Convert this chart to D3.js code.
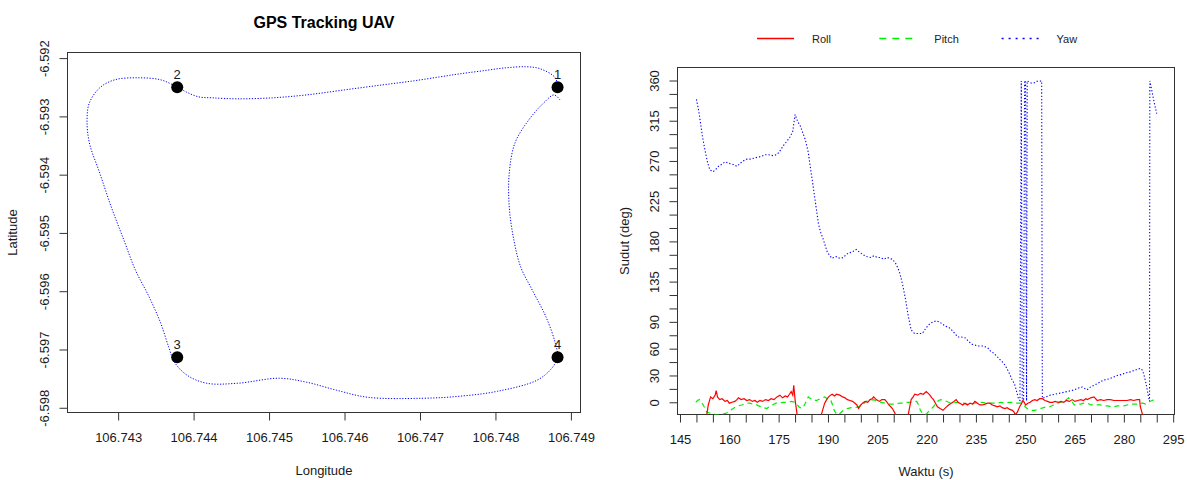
<!DOCTYPE html>
<html><head><meta charset="utf-8">
<script src="https://cdn.jsdelivr.net/npm/d3@7"></script>
<style>body{margin:0;background:#fff;} svg{display:block;font-family:"Liberation Sans",Arial,sans-serif;}</style>
</head><body><svg id="c" width="1187" height="480"></svg>
<script>
// ---------- Left panel data: GPS track ----------
const trackLon = [106.748823,106.748793,106.748595,106.748412,106.748137,106.747832,106.747527,106.747268,106.746918,106.746506,
106.746003,106.745500,106.745043,106.744585,106.744250,106.744067,106.743899,106.743777,106.743564,106.743259,
106.742954,106.742756,106.742619,106.742588,106.742619,106.742756,106.742909,106.743076,106.743229,106.743412,
106.743564,106.743671,106.743747,106.743915,106.744174,106.744585,106.745134,106.745500,106.745896,106.746308,
106.747024,106.747527,106.748030,106.748549,106.748747,106.748823,106.748793,106.748671,106.748488,106.748335,
106.748244,106.748183,106.748183,106.748259,106.748442,106.748640,106.748777,106.748854];
const trackLat = [-6.592493,-6.592338,-6.592184,-6.592149,-6.592167,-6.592218,-6.592270,-6.592321,-6.592390,-6.592459,
-6.592545,-6.592631,-6.592682,-6.592699,-6.592682,-6.592665,-6.592579,-6.592493,-6.592373,-6.592338,
-6.592373,-6.592510,-6.592768,-6.593060,-6.593455,-6.593971,-6.594555,-6.595122,-6.595637,-6.596101,
-6.596548,-6.596961,-6.597218,-6.597442,-6.597579,-6.597579,-6.597493,-6.597562,-6.597699,-6.597820,
-6.597837,-6.597802,-6.597716,-6.597528,-6.597321,-6.597132,-6.596892,-6.596445,-6.595981,-6.595586,
-6.595122,-6.594555,-6.593971,-6.593455,-6.593060,-6.592768,-6.592631,-6.592716];
const wpLon = [106.748823,106.743783,106.743783,106.748823];
const wpLat = [-6.592499,-6.592499,-6.597135,-6.597135];
const wpLabels = ["1","2","3","4"];
const lonTicks = [106.743,106.744,106.745,106.746,106.747,106.748,106.749];
const lonTickLabels = ["106.743","106.744","106.745","106.746","106.747","106.748","106.749"];
const latTicks = [-6.598,-6.597,-6.596,-6.595,-6.594,-6.593,-6.592];
const latTickLabels = ["-6.598","-6.597","-6.596","-6.595","-6.594","-6.593","-6.592"];

// ---------- Right panel data: attitude ----------
const yawTime = [150.0,150.6,151.1,151.8,152.6,153.4,154.1,155.1,156.0,156.7,157.6,158.7,159.5,160.2,161.2,162.3,163.2,164.2,165.3,166.5,
167.4,168.4,169.6,170.9,172.0,173.2,174.4,175.2,176.4,177.5,178.5,179.3,180.0,180.8,181.5,182.3,183.1,184.0,184.6,185.4,
186.1,187.1,187.8,188.6,189.8,191.2,192.5,193.6,194.7,195.5,196.2,197.3,198.6,199.6,200.7,201.8,203.0,204.0,205.0,205.9,
207.0,208.0,208.9,209.6,210.5,211.3,211.9,212.8,213.6,214.4,215.3,216.3,217.5,218.7,219.8,221.0,222.0,222.9,223.9,225.0,
225.8,226.7,227.6,228.6,229.5,230.5,231.8,232.8,233.8,234.7,235.8,236.9,237.9,238.6,239.5,240.4,241.5,242.5,243.4,244.4,
245.2,246.0,246.7,247.4,248.0,248.4,248.8,249.1,249.5,249.8,250.1,250.4,250.6,251.3,252.0,252.8,253.5,254.2,255.0,255.2,
256.3,257.6,259.0,260.3,261.5,262.7,263.9,265.0,266.2,267.3,267.8,268.8,269.8,270.9,272.0,272.9,274.0,275.3,276.7,278.0,
279.2,280.6,282.0,283.4,285.0,285.6,286.1,286.8,287.4,287.8,287.9,288.6,289.3,290.0];
const yawVal = [339,328,316,298,282,268,260,258,261,264,266,269,268,267,266,264,267,270,272,272,
273,274,275,277,277,276,277,280,287,292,297,303,322,314,310,302,294,280,264,244,
226,200,190,182,168,161,163,161,162,165,167,168,171,168,165,163,162,164,162,162,
160,162,161,160,156,150,144,130,115,97,81,77,77,77,83,88,90,91,90,87,
85,84,81,77,73,73,72,68,65,64,63,63,62,61,57,55,51,47,44,38,
32,25,21,12,3,2,359.5,1,1.5,359.8,359,1.5,359.6,358,357,357.5,359,359.2,359.5,4.5,
6,8,9,10,11,12,13,14,16,17,16,14,17,19,21,23,25,26,28,30,
31,33,34,36,38,36,31,20,8,1,359.5,347,334,323];

const rollTime = [150.0,152.0,153.1,153.6,154.3,155.0,155.7,156.0,156.4,157.1,157.8,158.7,159.4,160.0,160.8,161.7,162.3,162.8,163.6,164.5,
165.3,166.2,167.0,167.8,168.5,169.3,170.1,171.0,171.9,172.7,173.6,174.5,175.4,176.2,177.0,177.7,178.3,178.8,179.3,179.6,
180.0,180.4,180.7,182.0,186.0,187.9,189.0,189.6,190.2,190.8,191.3,192.0,192.6,193.6,194.5,195.2,195.9,196.7,197.5,198.2,
198.8,199.3,200.0,200.5,201.3,202.1,202.8,203.4,203.9,204.7,205.6,206.4,207.3,208.0,208.5,209.1,209.6,210.2,210.7,212.0,
213.5,214.4,215.3,215.9,216.4,217.3,218.1,219.0,219.9,220.5,221.0,221.6,222.1,222.7,223.3,224.1,225.0,225.8,226.7,227.5,
228.3,229.0,229.6,230.1,231.0,231.7,232.4,233.2,234.0,234.7,235.5,236.2,237.0,237.8,238.5,239.2,240.0,240.8,241.5,242.3,
243.0,243.8,244.5,245.3,246.1,246.6,247.0,247.6,248.3,248.8,249.3,249.7,250.1,250.8,251.5,252.2,252.9,253.6,254.4,255.2,
256.0,256.8,257.5,258.3,259.1,260.0,260.9,261.7,262.5,263.4,264.3,265.1,266.0,266.9,267.7,268.4,268.9,269.9,270.9,271.9,
272.9,273.9,274.9,275.9,277.0,278.0,279.0,280.0,281.0,282.0,283.0,284.0,284.8,285.0,285.7,286.5,289.8];
const rollVal = [-45,-35,-15,-3,6,4,8,13,6,3,4,1,2,-1,0,1,3,5,3,4,
2,3,1,2,0,2,1,3,2,4,3,6,8,5,7,6,9,12,8,19,
3,-8,-16,-30,-30,-15,-1,3,6,8,9,7,9,8,6,5,3,2,1,-1,
-3,-7,-3,-1,1,0,3,4,6,3,1,3,3,0,-3,-5,-7,-11,-15,-35,
-30,-14,3,6,9,8,10,9,12,10,8,5,3,-1,-5,-7,-9,-6,-3,-1,
1,3,0,-1,-3,-1,-3,-1,-2,1,-1,-3,-3,-2,-1,-1,-3,-4,-5,-4,
-6,-7,-6,-8,-9,-11,-14,-11,-5,-2,2,0,-3,-1,0,2,3,2,4,4,
2,1,0,0,1,0,1,0,2,1,3,1,2,3,2,4,3,5,6,2,
3,2,3,3,2,2,2,2,2,3,2,3,3,-5,-14,-30,-35];

const pitchTime = [149.8,150.3,150.9,151.4,151.9,152.5,153.1,154.0,155.1,156.2,157.2,158.2,159.2,160.2,161.2,162.0,162.8,163.8,164.8,165.6,
166.2,167.0,168.0,168.9,169.7,170.5,171.4,172.2,173.1,174.2,175.2,176.3,177.7,178.8,180.0,180.6,181.1,181.6,182.2,183.0,
184.0,184.8,185.6,186.5,187.6,189.0,189.8,190.8,191.4,191.9,192.4,193.0,193.8,194.7,195.9,197.0,198.2,199.3,200.4,201.6,
202.7,203.9,205.0,206.2,207.3,208.5,209.6,210.7,211.8,213.0,214.1,215.1,216.0,217.0,217.6,218.1,218.7,219.3,220.0,220.9,
221.5,222.1,222.9,223.6,224.4,225.5,226.7,227.8,229.0,230.1,231.2,232.3,233.5,234.6,235.8,236.9,238.0,239.2,240.3,241.5,
242.6,243.8,245.0,246.1,247.1,248.0,248.9,249.7,250.6,251.3,252.1,252.9,253.8,254.7,255.6,256.5,257.5,258.6,259.7,260.9,
261.7,262.5,263.2,264.0,264.9,265.8,266.8,267.8,268.9,269.9,270.9,271.9,272.9,274.0,275.1,276.1,277.0,278.0,279.0,280.0,
281.0,282.0,283.0,284.0,285.0,285.8,286.6,287.3,287.9,288.6,289.3,289.8];
const pitchVal = [0,2,3,0,-2,-6,-11,-12,-13,-14,-14,-13,-12,-9,-7,-5,-4,-3,-2,-1,
-1,-2,-2,-4,-5,-6,-7,-5,-3,-1,-1,0,0,1,0,-2,-5,-6,-7,-2,
6,4,3,2,4,6,4,3,-3,-9,-12,-14,-12,-9,-7,-6,-6,-5,-3,1,
2,3,1,0,-1,-2,-2,-2,-1,-1,0,0,1,1,-3,-9,-12,-14,-13,-9,
-7,-5,-1,2,3,2,0,-1,0,-1,-1,-2,-2,-1,0,0,-1,-1,-1,-1,
0,-1,0,0,-1,-1,-1,-4,-7,-8,-9,-9,-8,-7,-6,-5,-5,-3,-1,0,
1,3,5,2,-3,-2,-2,-1,-1,-3,-3,-3,-3,-4,-4,-5,-5,-4,-4,-4,
-3,-2,-2,-2,-1,-1,-2,-1,1,2,3,4];

const timeTicks = d3.range(145, 296, 5);
const timeTickLabels = ["145","160","175","190","205","220","235","250","265","280","295"];
const angleTicks = d3.range(0, 361, 15);
const angleTickLabels = ["0","30","60","90","135","180","225","270","315","360"];
const seriesNames = ["Roll","Pitch","Yaw"];
const seriesColors = ["#ff0000","#00ee00","#0000ff"];

// ---------- Drawing ----------
const svg = d3.select("#c");
const FONT = 13, INK = "#1a1a1a";

function boxAndClip(id, x0, y0, x1, y1) {
  svg.append("clipPath").attr("id", id).append("rect")
    .attr("x", x0).attr("y", y0).attr("width", x1 - x0).attr("height", y1 - y0);
}

// ===== Left panel =====
const L = {x0: 67.5, x1: 580.5, y0: 52.5, y1: 412.5};
const xL = d3.scaleLinear().domain([106.742329, 106.749127]).range([L.x0, L.x1]);
const yL = d3.scaleLinear().domain([-6.598081, -6.591904]).range([L.y1, L.y0]);

const axBL = svg.append("g").attr("transform", `translate(0,${L.y1})`)
  .call(d3.axisBottom(xL).tickValues(lonTicks).tickSize(8).tickSizeOuter(0)
    .tickFormat((d, i) => lonTickLabels[i]));
const axLL = svg.append("g").attr("transform", `translate(${L.x0},0)`)
  .call(d3.axisLeft(yL).tickValues(latTicks).tickSize(8).tickSizeOuter(0)
    .tickFormat((d, i) => latTickLabels[i]));

// ===== Right panel =====
const R = {x0: 677.5, x1: 1174.5, y0: 67.5, y1: 414.5};
const xR = d3.scaleLinear().domain([144.24, 295.4]).range([R.x0, R.x1]);
const yR = d3.scaleLinear().domain([-13.66, 374.55]).range([R.y1, R.y0]);

const axBR = svg.append("g").attr("transform", `translate(0,${R.y1})`)
  .call(d3.axisBottom(xR).tickValues(timeTicks).tickSize(8).tickSizeOuter(0)
    .tickFormat(d => timeTickLabels.includes(String(d)) ? String(d) : ""));
const axLR = svg.append("g").attr("transform", `translate(${R.x0},0)`)
  .call(d3.axisLeft(yR).tickValues(angleTicks).tickSize(8).tickSizeOuter(0)
    .tickFormat(d => angleTickLabels.includes(String(d)) ? String(d) : ""));

// style axes like R
[axBL, axLL, axBR, axLR].forEach(g => {
  g.select(".domain").remove();
  g.selectAll(".tick line").attr("stroke", "#333");
  g.selectAll("text").attr("font-size", FONT).attr("fill", INK)
    .attr("font-family", '"Liberation Sans", Arial, sans-serif');
});
[axBL, axBR].forEach(g => g.selectAll("text").attr("y", 25).attr("dy", "0.35em"));
[axLL, axLR].forEach(g => g.selectAll("text")
  .attr("transform", "rotate(-90)").attr("x", 0).attr("y", -23.5)
  .attr("dy", "0.35em").attr("text-anchor", "middle"));

// boxes
[L, R].forEach(b => svg.append("rect").attr("x", b.x0).attr("y", b.y0)
  .attr("width", b.x1 - b.x0).attr("height", b.y1 - b.y0)
  .attr("fill", "none").attr("stroke", "#333").attr("stroke-width", 1));

// left content
boxAndClip("clipL", L.x0, L.y0, L.x1, L.y1);
const gL = svg.append("g").attr("clip-path", "url(#clipL)");
const track = trackLon.map((d, i) => [d, trackLat[i]]);
gL.append("path").datum(track)
  .attr("d", d3.line().x(d => xL(d[0])).y(d => yL(d[1])).curve(d3.curveCatmullRom.alpha(0.5)))
  .attr("fill", "none").attr("stroke", "#0000ff").attr("stroke-width", 1)
  .attr("stroke-dasharray", "1.2,1.6");
gL.selectAll("circle.wp").data(wpLon).join("circle")
  .attr("cx", d => xL(d)).attr("cy", (d, i) => yL(wpLat[i])).attr("r", 6).attr("fill", "#000");
svg.selectAll("text.wpl").data(wpLabels).join("text").attr("class", "wpl")
  .attr("x", (d, i) => xL(wpLon[i])).attr("y", (d, i) => yL(wpLat[i]) - 13)
  .attr("dy", "0.35em").attr("text-anchor", "middle").attr("font-size", FONT).attr("fill", INK)
  .text(d => d);

// titles left
svg.append("text").attr("x", (L.x0 + L.x1) / 2).attr("y", 22).attr("dy", "0.35em")
  .attr("text-anchor", "middle").attr("font-size", 16).attr("font-weight", "bold").attr("fill", "#000")
  .text("GPS Tracking UAV");
svg.append("text").attr("x", (L.x0 + L.x1) / 2).attr("y", 470).attr("dy", "0.35em")
  .attr("text-anchor", "middle").attr("font-size", FONT).attr("fill", INK).text("Longitude");
svg.append("text").attr("transform", `translate(12,${(L.y0 + L.y1) / 2}) rotate(-90)`)
  .attr("dy", "0.35em").attr("text-anchor", "middle").attr("font-size", FONT).attr("fill", INK).text("Latitude");

// right content
boxAndClip("clipR", R.x0, R.y0, R.x1, R.y1);
const gR = svg.append("g").attr("clip-path", "url(#clipR)");
const lineR = d3.line().x(d => xR(d[0])).y(d => yR(d[1]));
const series = [
  {name: seriesNames[0], t: rollTime, v: rollVal, color: seriesColors[0], dash: null, w: 1.2},
  {name: seriesNames[1], t: pitchTime, v: pitchVal, color: seriesColors[1], dash: "5,4", w: 1.2},
  {name: seriesNames[2], t: yawTime, v: yawVal, color: seriesColors[2], dash: "1.3,2", w: 1.1}
];
series.slice().reverse().forEach(s => {
  gR.append("path").datum(s.t.map((t, i) => [t, s.v[i]]))
    .attr("d", lineR).attr("fill", "none").attr("stroke", s.color)
    .attr("stroke-width", s.w).attr("stroke-dasharray", s.dash);
});

// right titles
svg.append("text").attr("x", (R.x0 + R.x1) / 2).attr("y", 471).attr("dy", "0.35em")
  .attr("text-anchor", "middle").attr("font-size", FONT).attr("fill", INK).text("Waktu (s)");
svg.append("text").attr("transform", `translate(624,${(R.y0 + R.y1) / 2}) rotate(-90)`)
  .attr("dy", "0.35em").attr("text-anchor", "middle").attr("font-size", FONT).attr("fill", INK).text("Sudut (deg)");

// legend
const leg = svg.append("g");
const legDash = [null, "7,6", "2,5"];
series.forEach((s, i) => {
  const x0 = 757 + i * 122.3;
  leg.append("line").attr("x1", x0).attr("x2", x0 + 37).attr("y1", 38.5).attr("y2", 38.5)
    .attr("stroke", s.color).attr("stroke-width", 1.6).attr("stroke-dasharray", legDash[i]);
  leg.append("text").attr("x", x0 + 55).attr("y", 39).attr("dy", "0.35em")
    .attr("font-size", 11).attr("fill", "#222").text(s.name);
});
</script></body></html>
